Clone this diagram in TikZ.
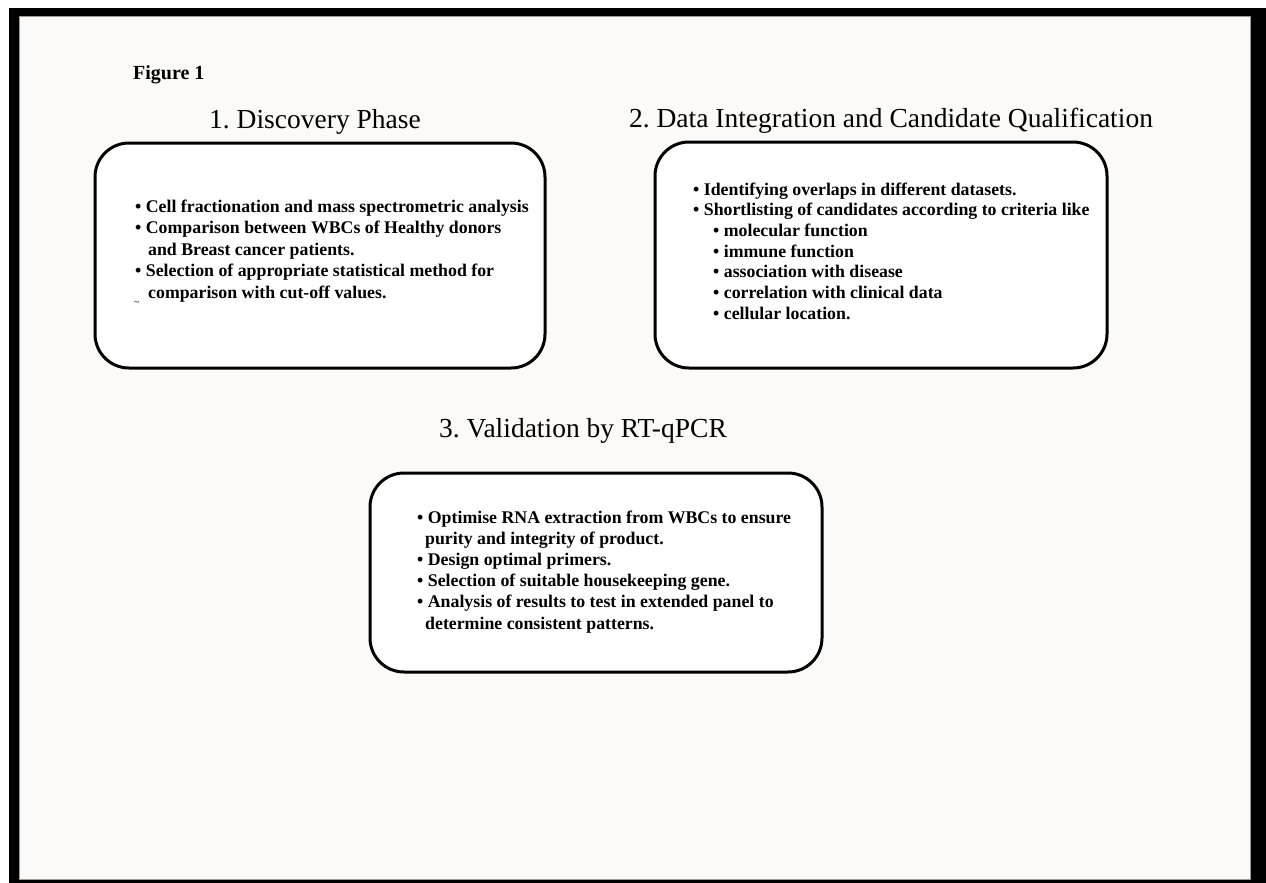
\documentclass[tikz,border=0pt]{standalone}
\usepackage{fontspec}
\setmainfont{Liberation Serif}
\definecolor{pagebg}{HTML}{FBFAF8}
\definecolor{edgegray}{HTML}{9A9A9A}
\begin{document}
\frenchspacing
\begin{tikzpicture}[x=1pt,y=-1pt,
  box/.style={draw=black, line width=3pt, rounded corners=34pt, fill=white, inner sep=0pt},
  head/.style={font=\fontsize{27.5}{32}\selectfont, anchor=base, inner sep=0pt},
  bodyA/.style={font=\fontsize{17.8}{21.5}\selectfont\bfseries, anchor=base west, inner sep=0pt},
  bodyB/.style={font=\fontsize{17.8}{20.7}\selectfont\bfseries, anchor=base west, inner sep=0pt},
  bodyC/.style={font=\fontsize{17.8}{21.2}\selectfont\bfseries, anchor=base west, inner sep=0pt}
]
\useasboundingbox (0,0) rectangle (1266,883);
\fill[white] (0,0) rectangle (1266,883);
\fill[black] (9,8) rectangle (1266,883);
\fill[pagebg, draw=edgegray, line width=1pt] (19.5,16.5) rectangle (1250.5,879.5);

\node[font=\fontsize{20}{24}\selectfont\bfseries, anchor=base west, inner sep=0pt] (fig) at (133,79) {Figure 1};

\node[head] (h1) at (315,128) {1. Discovery Phase};
\node[head] (h2) at (891,127) {2. Data Integration and Candidate Qualification};
\node[head] (h3) at (583,437) {3. Validation by RT-qPCR};

\node[box, minimum width=450pt, minimum height=225pt] (b1) at (320,255.5) {};
\node[box, minimum width=452pt, minimum height=226pt] (b2) at (881,255) {};
\node[box, minimum width=452pt, minimum height=199pt] (b3) at (596,572.5) {};

\node[bodyA] (t1) at (135,212) {\begin{tabular}[t]{@{}l@{}}
• Cell fractionation and mass spectrometric analysis\\
• Comparison between WBCs of Healthy donors\\
\hspace{13pt}and Breast cancer patients.\\
• Selection of appropriate statistical method for\\
\hspace{13pt}comparison with cut-off values.
\end{tabular}};
\node[font=\fontsize{10}{10}\selectfont, anchor=base west, inner sep=0pt] (tick) at (134,305) {\textasciitilde};

\node[bodyB] (t2) at (693,195) {\begin{tabular}[t]{@{}l@{}}
• Identifying overlaps in different datasets.\\
• Shortlisting of candidates according to criteria like\\
\hspace{20pt}• molecular function\\
\hspace{20pt}• immune function\\
\hspace{20pt}• association with disease\\
\hspace{20pt}• correlation with clinical data\\
\hspace{20pt}• cellular location.
\end{tabular}};

\node[bodyC] (t3) at (417,523) {\begin{tabular}[t]{@{}l@{}}
• Optimise RNA extraction from WBCs to ensure\\
\hspace{8pt}purity and integrity of product.\\
• Design optimal primers.\\
• Selection of suitable housekeeping gene.\\
• Analysis of results to test in extended panel to\\
\hspace{8pt}determine consistent patterns.
\end{tabular}};
\end{tikzpicture}
\end{document}
